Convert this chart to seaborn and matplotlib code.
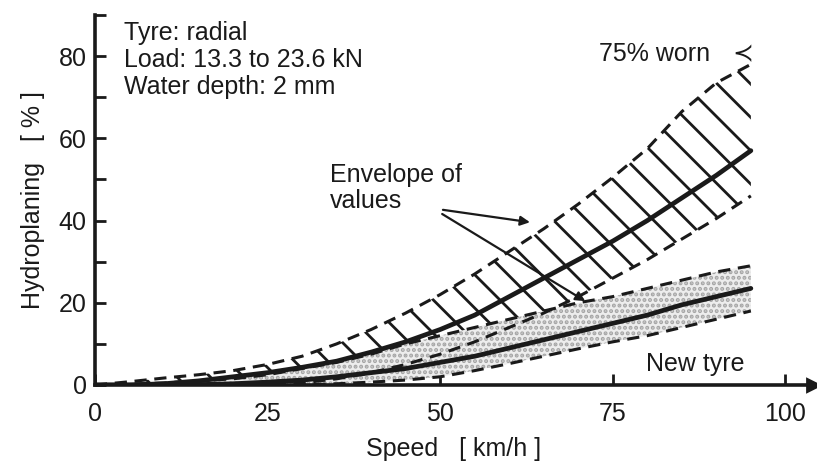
import numpy as np
import pandas as pd
import matplotlib
matplotlib.use("Agg")
import matplotlib.pyplot as plt
import seaborn as sns

# values (speed in km/h, hydroplaning in %)
speed = [0, 5, 10, 15, 20, 25, 30, 35, 40, 45, 50, 55, 60, 65, 70, 75, 80, 85, 90, 95]
worn_mid = [0, 0, 0.3, 1, 2, 3, 4.3, 5.8, 8, 10.5, 13.5, 17, 21.5, 26, 30.5, 35, 40, 45.5, 51, 57]
worn_upper = [0, 0.8, 1.7, 2.5, 3.5, 5, 7, 10, 13.5, 17.5, 22, 27, 32.5, 38, 44, 50.5, 57.5, 66.5, 73.5, 78]
worn_lower = [0, 0, 0, 0, 0, 0, 0.5, 1.5, 3, 5, 7.5, 10.5, 14, 17.5, 21.5, 26, 30.5, 35.5, 40.5, 46]
new_upper = [0, 0.2, 0.5, 1, 1.5, 2.5, 4, 5.5, 7.5, 10, 12, 14, 16, 18, 20, 21.5, 23.5, 25.5, 27.5, 29]
new_mid = [0, 0, 0, 0.1, 0.3, 0.7, 1.2, 2, 3, 4, 5.5, 7, 9, 11, 13, 15, 17, 19.5, 21.5, 23.5]
new_lower = [0, 0, 0, 0, 0, 0, 0, 0.3, 0.7, 1.2, 2, 3.5, 5.2, 7, 8.8, 10.5, 12, 14, 16, 18]

x_ticks = [0, 25, 50, 75, 100]
y_ticks = [0, 20, 40, 60, 80]
y_minor = [10, 30, 50, 70, 90]

df = pd.DataFrame({"speed": speed, "worn_mid": worn_mid, "new_mid": new_mid})

sns.set_theme(style="white")
plt.rcParams["font.family"] = ["Liberation Sans", "DejaVu Sans"]
plt.rcParams["hatch.linewidth"] = 1.0

# dpi 200 so the hatch spacing is as wide as in the scan
fig, ax = plt.subplots(figsize=(8.17 / 2, 4.65 / 2), dpi=200)
fig.subplots_adjust(left=95 / 817, right=813 / 817, bottom=80 / 465, top=450 / 465)

# envelopes
ax.fill_between(speed, worn_lower, worn_upper, facecolor="none", edgecolor="k",
                linewidth=0, hatch="\\\\", zorder=1)
ax.fill_between(speed, new_lower, new_upper, facecolor="#ededed", edgecolor="#a5a5a5",
                linewidth=0, hatch="......", zorder=1)

dash = (0, (4, 2.5))
for ys in [worn_upper, worn_lower, new_upper, new_lower]:
    ax.plot(speed, ys, color="k", lw=1.1, linestyle=dash, zorder=3)

# mean curves
sns.lineplot(data=df, x="speed", y="worn_mid", color="k", lw=1.7, ax=ax, zorder=4)
sns.lineplot(data=df, x="speed", y="new_mid", color="k", lw=1.7, ax=ax, zorder=4)

ax.set_xlim(0, 104)
ax.set_ylim(0, 90)
ax.set_xticks(x_ticks)
ax.set_yticks(y_ticks)
ax.set_yticks(y_minor, minor=True)
ax.tick_params(axis="both", which="both", direction="in", length=4, width=1,
               labelsize=9, colors="k", pad=3)
ax.tick_params(axis="x", pad=6)
ax.tick_params(axis="y", which="both", left=True)
ax.tick_params(axis="x", bottom=True)

sns.despine(ax=ax)
for s in ["left", "bottom"]:
    ax.spines[s].set_linewidth(1.3)
    ax.spines[s].set_color("k")
ax.plot(1, 0, ">k", transform=ax.transAxes, clip_on=False, ms=4)

ax.set_xlabel("Speed   [ km/h ]", fontsize=9, color="k", labelpad=4)
ax.set_ylabel("Hydroplaning   [ % ]", fontsize=9, color="k", labelpad=5)

# annotations
ax.text(4.2, 88.5, "Tyre: radial\nLoad: 13.3 to 23.6 kN\nWater depth: 2 mm",
        va="top", ha="left", fontsize=9, linespacing=1.15, color="k")
ax.text(73, 80.5, "75% worn", va="center", ha="left", fontsize=9, color="k")
ax.text(92.3, 80.5, "≺", va="center", ha="left", fontsize=9, color="k")
ax.text(34, 54, "Envelope of\nvalues", va="top", ha="left", fontsize=9,
        linespacing=1.1, color="k")
ax.text(87, 5, "New tyre", va="center", ha="center", fontsize=9, color="k")

arrow = dict(arrowstyle="-|>", color="k", lw=0.8, mutation_scale=7)
ax.annotate("", xy=(63.8, 39.4), xytext=(49.6, 42.8), arrowprops=arrow)
ax.annotate("", xy=(71.7, 19.7), xytext=(49.6, 42.3), arrowprops=arrow)

fig.savefig("out.png", dpi=200)
